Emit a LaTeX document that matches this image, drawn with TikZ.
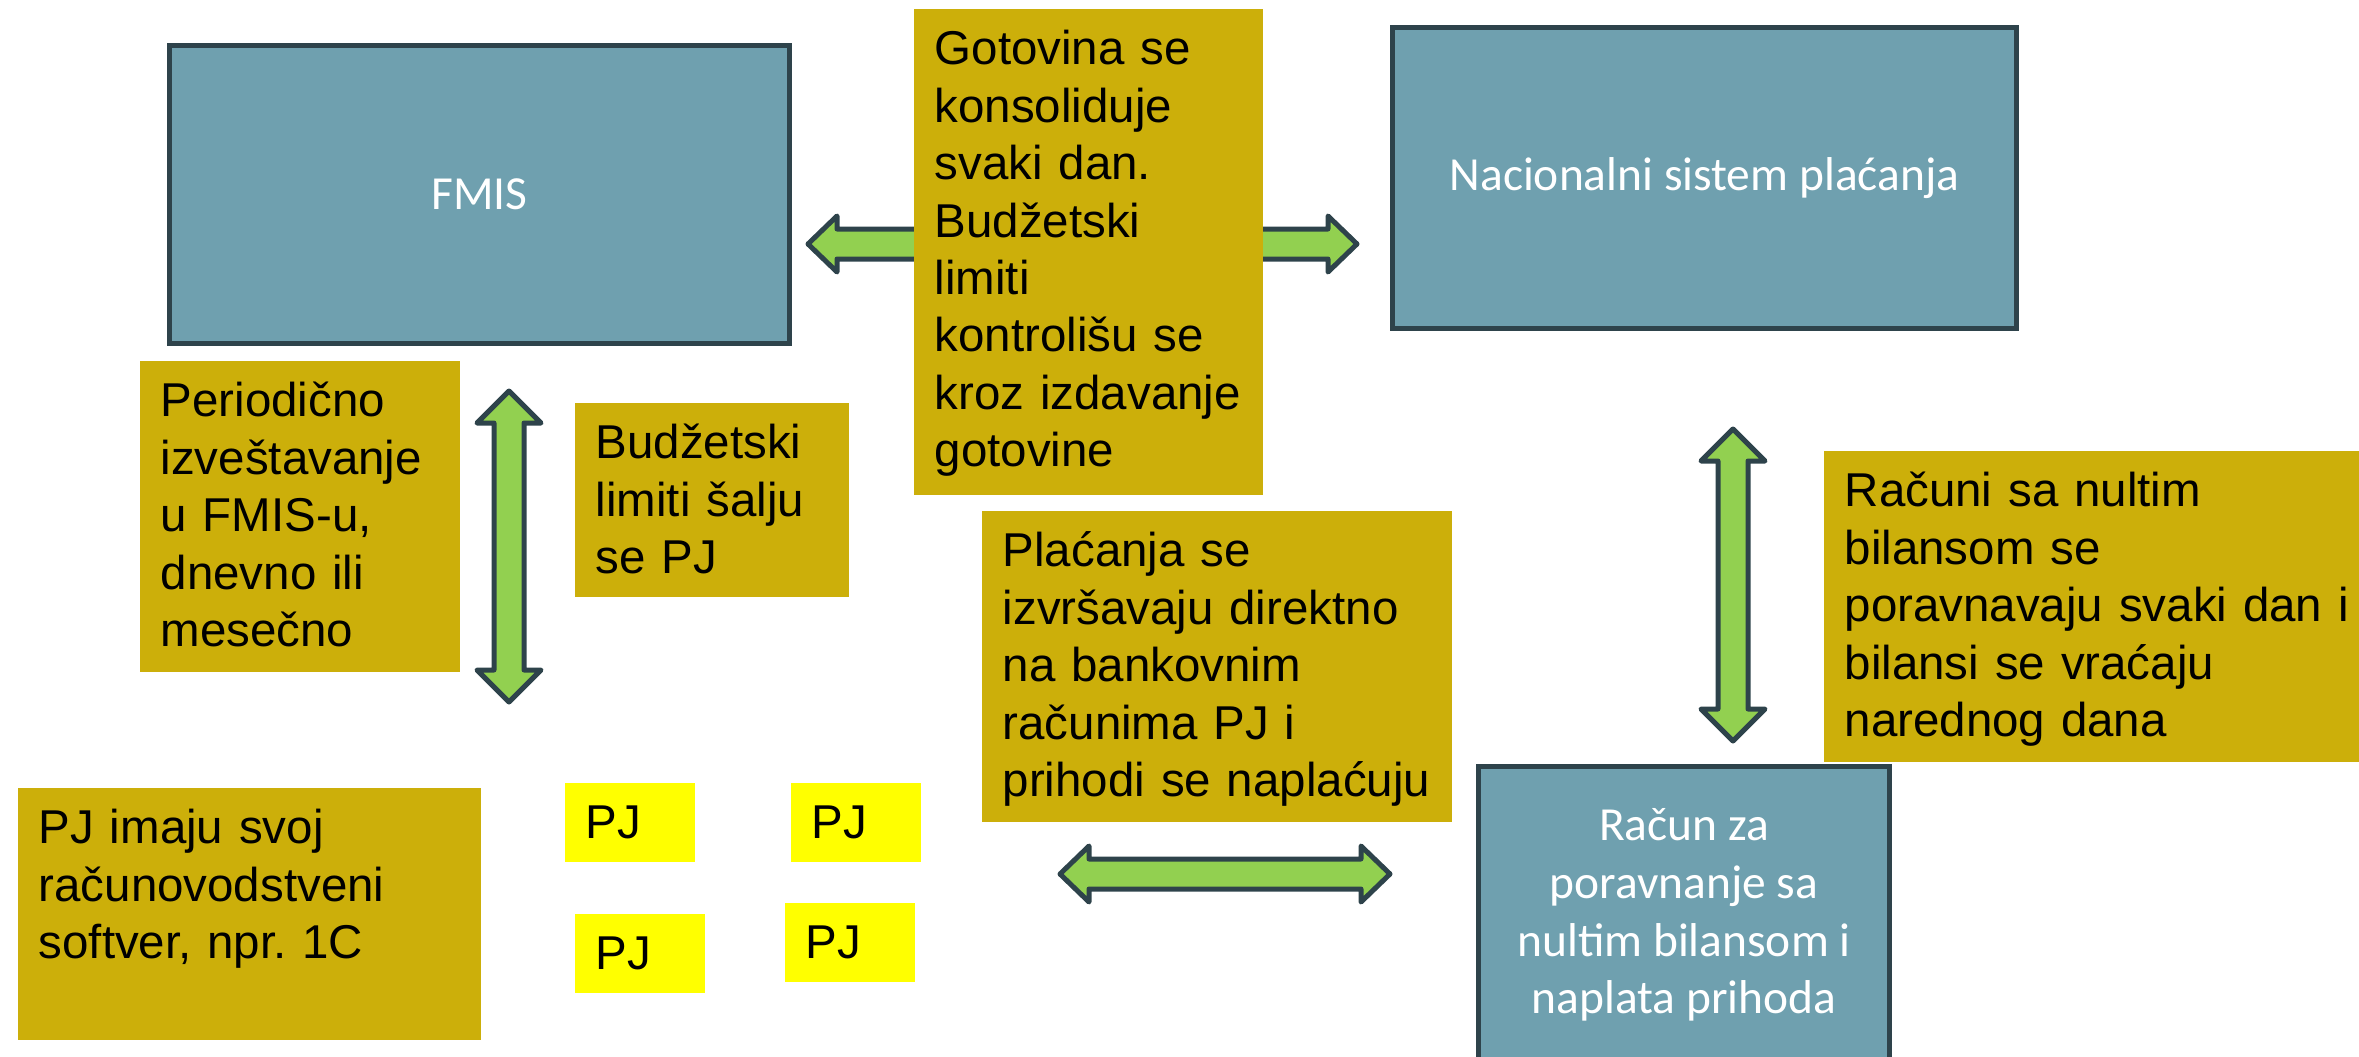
\documentclass[tikz,border=0pt]{standalone}
\usepackage{fontspec}
\setmainfont{Liberation Sans}
\newfontfamily\calibri{Carlito}
\frenchspacing
\definecolor{boxblue}{HTML}{6FA0AF}
\definecolor{boxedge}{HTML}{2E434B}
\definecolor{notegold}{HTML}{CCAF0A}
\definecolor{arrowgreen}{HTML}{92D050}
\definecolor{pjyellow}{HTML}{FFFF00}
\tikzset{
  bluebox/.style={draw=boxedge, line width=0.05cm, fill=boxblue, text=white, align=center, inner sep=0pt,
    font=\calibri\fontsize{13.5}{16.4}\selectfont},
  notebox/.style={fill=notegold, anchor=north west, inner xsep=0.21cm, inner ysep=0pt, text height=0.56cm,
    align=left, font=\fontsize{13.5}{16.33}\selectfont},
  pjbox/.style={notebox, fill=pjyellow, text width=0.88cm, text depth=0.23cm},
  fatarrow/.style={draw=boxedge, line width=0.05cm, fill=arrowgreen, line join=round}
}
\begin{document}
\begin{tikzpicture}[x=0.01cm, y=-0.01cm]
            \useasboundingbox (0,0) rectangle (2359,1057);
            \foreach \xa/\xb/\y in {808/1357/244, 1060/1390/874}
                \draw[fatarrow] (\xa,\y) -- ++(29,-28) -- ++(0,13) -- (\xb-29,\y-15) -- ++(0,-13) -- (\xb,\y)
                    -- ++(-29,28) -- ++(0,-13) -- (\xa+29,\y+15) -- ++(0,13) -- cycle;
            \foreach \x/\ya/\yb in {509/391/702, 1733/429/741}
                \draw[fatarrow] (\x,\ya) -- ++(-32,32) -- ++(17,0) -- (\x-15,\yb-32) -- ++(-17,0) -- (\x,\yb)
                    -- ++(32,-32) -- ++(-17,0) -- (\x+15,\ya+32) -- ++(17,0) -- cycle;
            \node[bluebox, minimum width=6.20cm, minimum height=2.98cm] (fmis) at (479.5,194.5) {FMIS};
            \node[bluebox, minimum width=6.23cm, minimum height=3.00cm] (nsp) at (1704.5,178) {Nacionalni sistem plaćanja};
            \node[bluebox, minimum width=4.10cm, minimum height=2.97cm] (racun) at (1684,915)
                {Račun za\\poravnanje sa\\nultim bilansom i\\naplata prihoda};
            \node[notebox, text width=3.07cm, text depth=4.30cm] (got) at (913,8)
                {Gotovina se\\konsoliduje\\svaki dan.\\Budžetski\\limiti\\kontrolišu se\\kroz izdavanje\\gotovine};
            \node[notebox, text width=2.78cm, text depth=2.55cm] (per) at (139,360)
                {Periodično\\izveštavanje\\u FMIS-u,\\dnevno ili\\mesečno};
            \node[notebox, text width=2.32cm, text depth=1.38cm] (bud) at (574,402) {Budžetski\\limiti šalju\\se PJ};
            \node[notebox, text width=4.28cm, text depth=2.55cm] (pla) at (981,510)
                {Plaćanja se\\izvršavaju direktno\\na bankovnim\\računima PJ i\\prihodi se naplaćuju};
            \node[notebox, text width=5.40cm, text depth=2.55cm] (rac) at (1823,450)
                {Računi sa nultim\\bilansom se\\poravnavaju svaki dan i\\bilansi se vraćaju\\narednog dana};
            \node[notebox, text width=4.21cm, text depth=1.96cm] (pji) at (17,787)
                {PJ imaju svoj\\računovodstveni\\softver, npr. 1C};
            \node[pjbox] (pj1) at (564,782) {PJ};
            \node[pjbox] (pj2) at (790,782) {PJ};
            \node[pjbox] (pj3) at (574,913) {PJ};
            \node[pjbox] (pj4) at (784,902) {PJ};
\end{tikzpicture}
\end{document}
